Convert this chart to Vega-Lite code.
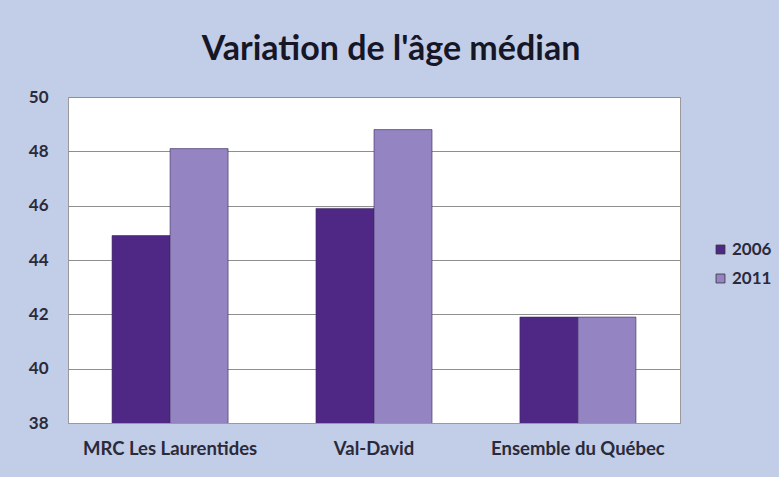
{
  "$schema": "https://vega.github.io/schema/vega-lite/v6.json",
  "width": 612,
  "height": 326,
  "padding": {"left": 28, "top": 33, "right": 16, "bottom": 19},
  "background": "#c2cde8",
  "title": {
    "text": "Variation de l'âge médian",
    "font": "Lato",
    "fontSize": 34,
    "fontWeight": "bold",
    "color": "#161626",
    "offset": 21,
    "dx": 17
  },
  "data": {
    "values": [
      {"region": "MRC Les Laurentides", "year": "2006", "value": 44.9},
      {"region": "MRC Les Laurentides", "year": "2011", "value": 48.1},
      {"region": "Val-David", "year": "2006", "value": 45.9},
      {"region": "Val-David", "year": "2011", "value": 48.8},
      {"region": "Ensemble du Québec", "year": "2006", "value": 41.9},
      {"region": "Ensemble du Québec", "year": "2011", "value": 41.9}
    ]
  },
  "mark": {"type": "bar", "stroke": "#3a2a5a", "strokeWidth": 0.6, "clip": true},
  "encoding": {
    "x": {
      "field": "region",
      "type": "nominal",
      "sort": ["MRC Les Laurentides", "Val-David", "Ensemble du Québec"],
      "scale": {"paddingInner": 0.431, "paddingOuter": 0.216},
      "axis": {
        "title": null,
        "labelAngle": 0,
        "ticks": false,
        "domainColor": "#9a9a9a",
        "labelPadding": 16,
        "labelFont": "Lato",
        "labelFontSize": 18.5,
        "labelFontWeight": "bold",
        "labelColor": "#2a2a3a",
        "minExtent": 36,
        "maxExtent": 36
      }
    },
    "xOffset": {
      "field": "year",
      "type": "nominal",
      "scale": {"paddingInner": 0, "paddingOuter": 0}
    },
    "y": {
      "field": "value",
      "type": "quantitative",
      "scale": {"domain": [38, 50], "nice": false, "zero": false},
      "axis": {
        "title": null,
        "values": [38, 40, 42, 44, 46, 48, 50],
        "ticks": false,
        "domain": false,
        "gridColor": "#8f8f8f",
        "gridOpacity": 1,
        "labelPadding": 20,
        "labelFont": "Lato",
        "labelFontSize": 17,
        "labelFontWeight": "bold",
        "labelColor": "#2a2a3a",
        "minExtent": 40,
        "maxExtent": 40
      }
    },
    "color": {
      "field": "year",
      "type": "nominal",
      "scale": {"domain": ["2006", "2011"], "range": ["#4f2886", "#9484c1"]},
      "legend": {
        "title": null,
        "orient": "none",
        "legendX": 644,
        "legendY": 144,
        "symbolType": "square",
        "symbolSize": 80,
        "symbolStrokeColor": "#333",
        "symbolStrokeWidth": 0.8,
        "labelFont": "Lato",
        "labelFontSize": 17,
        "labelFontWeight": "bold",
        "labelColor": "#2a2a3a",
        "labelOffset": 3,
        "rowPadding": 11
      }
    }
  },
  "config": {
    "view": {"fill": "white", "stroke": "#9a9a9a"}
  }
}
